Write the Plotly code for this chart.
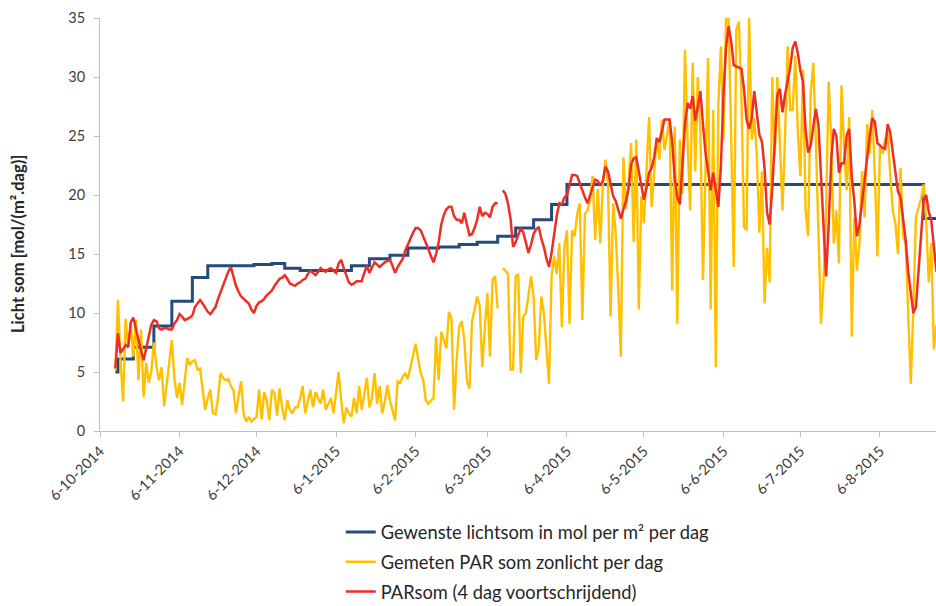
import pandas as pd
import plotly.graph_objects as go

# ---------------- data ----------------
series_start = "2014-10-12"   # first day of the daily series

# Gemeten PAR som zonlicht per dag (daily values)
par_measured = [
    5.2, 11.1, 6.0, 2.5, 9.5, 7.1, 9.1, 6.3, 9.4, 4.3,
    8.6, 2.9, 5.8, 4.1, 5.0, 7.5, 5.5, 4.3, 5.4, 2.1,
    4.0, 6.0, 7.7, 4.5, 2.8, 4.1, 2.2, 4.2, 6.2, 5.6,
    5.9, 6.0, 5.2, 5.3, 3.4, 1.8, 2.8, 3.5, 1.5, 1.4,
    2.8, 4.9, 4.5, 4.3, 4.4, 3.8, 3.5, 1.5, 3.0, 4.2,
    1.4, 0.8, 1.2, 0.8, 1.0, 1.2, 3.5, 1.0, 3.3, 2.6,
    0.9, 3.5, 3.2, 1.3, 3.6, 2.0, 0.9, 2.6, 1.8, 1.5,
    2.0, 2.0, 2.8, 3.8, 1.5, 2.6, 3.5, 2.0, 3.3, 2.8,
    2.3, 3.5, 1.8, 2.3, 2.8, 1.5, 3.5, 5.0, 2.6, 0.65,
    2.0, 1.5, 1.2, 2.8, 1.5, 3.8, 1.8, 3.0, 4.5, 2.0,
    2.8, 4.9, 2.3, 3.8, 1.5, 2.5, 3.9, 2.6, 1.8, 0.9,
    4.2, 4.1, 4.6, 4.9, 4.4, 5.5, 6.6, 7.4, 6.1, 4.9,
    4.3, 2.6, 2.3, 2.6, 2.8, 8.0, 4.3, 8.4, 7.7, 7.0,
    10.1, 9.5, 1.8, 6.0, 8.8, 9.3, 7.7, 4.3, 3.6, 9.3,
    10.3, 11.4, 10.6, 5.4, 8.8, 11.7, 6.3, 12.8, 13.1, 10.4,
    None, 13.8, 13.6, 13.3, 5.2, 5.2, 13.1, 13.3, 4.9, 9.7,
    10.0, 11.5, 13.1, 11.4, 6.0, 7.0, 11.4, 10.0, 7.0, 4.0,
    13.1, 14.8, 13.3, 15.9, 8.8, 15.6, 17.0, 9.1, 17.0, 16.5,
    18.4, 19.3, 9.4, 18.4, 18.7, 19.6, 21.6, 16.2, 20.5, 15.9,
    21.0, 23.0, 21.0, 9.7, 19.3, 16.8, 12.0, 6.3, 23.2, 18.8,
    21.0, 24.4, 16.0, 24.7, 10.3, 19.9, 17.6, 22.0, 26.6, 19.0,
    22.4, 24.9, 23.0, 26.4, 23.8, 25.0, 26.4, 11.9, 25.8, 9.1,
    24.7, 20.1, 32.3, 24.7, 18.7, 31.2, 22.0, 30.0, 25.3, 12.8,
    22.0, 31.6, 10.3, 27.2, 5.4, 27.7, 32.6, 24.7, 35.0, 35.0,
    25.0, 13.9, 34.0, 34.7, 28.3, 17.3, 17.0, 35.0, 24.7, 26.5,
    23.4, 16.8, 22.0, 10.8, 15.5, 12.6, 30.0, 23.4, 30.0, 25.0,
    18.7, 25.0, 32.6, 27.2, 27.2, 31.8, 25.3, 21.6, 30.6, 18.7,
    16.5, 28.6, 31.2, 24.7, 15.9, 9.1, 12.6, 18.7, 29.6, 24.7,
    15.9, 18.7, 14.2, 29.3, 24.1, 20.4, 26.6, 8.0, 18.1, 13.6,
    15.9, 22.0, 18.1, 26.0, 23.5, 27.2, 21.7, 14.8, 24.1, 23.5,
    24.7, 25.3, 21.7, 18.7, 17.6, 15.0, 22.3, 16.5, 15.9, 9.1,
    4.0, 10.3, 18.1, 18.9, 19.7, 20.9, 17.9, 12.6, 15.9, 6.9, 9.0,
]

# PARsom (4 dag voortschrijdend) (daily values, same dates)
par_running = [
    5.3, 8.3, 6.6, 7.0, 7.3, 7.1, 9.2, 9.6, 8.6, 7.5,
    6.8, 6.0, 7.0, 8.0, 9.0, 9.4, 9.3, 8.7, 8.6, 8.7,
    8.7, 8.6, 8.6, 9.1, 9.4, 9.9, 9.7, 9.4, 9.5, 9.6,
    9.8, 10.5, 10.8, 11.1, 10.8, 10.4, 10.1, 9.9, 10.2, 10.5,
    11.2, 11.8, 12.4, 12.9, 13.5, 13.9, 13.0, 12.3, 11.8, 11.4,
    11.2, 11.0, 10.8, 10.3, 10.0, 10.6, 10.9, 11.0, 11.2, 11.5,
    11.7, 11.9, 12.3, 12.6, 12.9, 13.0, 13.2, 12.9, 12.5, 12.4,
    12.3, 12.5, 12.6, 12.8, 12.9, 13.3, 13.6, 13.4, 13.2, 13.5,
    13.8, 13.6, 13.5, 13.7, 13.8, 13.6, 13.4, 14.2, 14.5, 13.8,
    13.2, 12.6, 12.4, 12.5, 12.7, 12.7, 12.7, 13.4, 14.0, 13.4,
    13.8, 14.3, 14.1, 13.9, 14.1, 14.3, 14.4, 14.5, 14.0, 13.4,
    13.9, 14.3, 14.6, 15.3, 15.8, 16.4, 16.8, 17.2, 17.2, 17.0,
    16.5, 16.0, 15.4, 14.8, 14.3, 15.0, 16.0, 17.5, 18.3, 18.8,
    19.0, 19.0, 18.2, 17.9, 17.9, 17.6, 18.5, 17.5, 16.6, 16.7,
    17.2, 17.9, 19.0, 18.2, 18.5, 18.4, 18.1, 19.0, 19.3, 19.3,
    None, 20.4, 20.1, 19.3, 18.0, 15.6, 16.0, 16.6, 17.2, 16.8,
    16.0, 15.1, 15.8, 16.7, 17.1, 17.3, 16.3, 15.6, 14.6, 13.9,
    15.1, 16.8, 18.2, 19.3, 19.2, 19.8, 20.0, 20.8, 21.7, 21.7,
    21.6, 21.0, 20.3, 19.8, 19.3, 20.0, 20.7, 21.3, 21.2, 20.8,
    21.2, 22.4, 22.0, 21.0, 19.9, 19.5, 18.8, 18.0, 18.8, 19.5,
    20.5, 22.6, 23.1, 23.2, 22.0, 20.8, 19.6, 20.6, 21.9, 22.3,
    23.2, 24.8, 24.5, 25.4, 26.4, 26.4, 26.4, 24.5, 21.5, 19.8,
    19.2, 22.5, 26.0, 27.8, 27.3, 28.4, 26.3, 27.5, 28.8, 26.0,
    23.6, 22.0, 20.4, 21.9, 20.4, 19.0, 22.5, 28.5, 32.5, 34.3,
    33.0, 31.0, 30.9, 30.8, 30.7, 29.0, 26.4, 25.6, 26.5, 28.8,
    27.0, 25.1, 24.5, 22.3, 18.5, 17.5, 20.5, 24.0, 28.5, 29.0,
    27.0, 28.5, 29.6, 30.8, 32.5, 33.0, 32.0, 30.5, 29.6, 25.5,
    23.6, 24.2, 25.8, 27.3, 26.0, 21.5, 16.5, 13.1, 17.5, 23.0,
    25.6, 25.0, 21.9, 22.7, 22.7, 25.0, 25.6, 21.6, 19.5, 16.5,
    17.5, 19.4, 21.5, 23.6, 25.0, 26.5, 26.2, 24.4, 24.2, 24.0,
    23.9, 26.0, 25.3, 23.5, 22.0, 20.3, 19.8, 18.0, 16.2, 13.5,
    11.5, 10.0, 10.5, 13.5, 17.0, 19.5, 20.0, 18.6, 17.8, 15.5, 13.5,
]

# Gewenste lichtsom (step values, each holds until the next date)
target_dates = [
    "2014-10-12", "2014-10-13", "2014-10-19", "2014-10-27", "2014-11-03",
    "2014-11-11", "2014-11-17", "2014-12-05", "2014-12-12", "2014-12-17",
    "2014-12-23", "2015-01-12", "2015-01-19", "2015-01-27", "2015-02-03",
    "2015-02-15", "2015-02-23", "2015-03-02", "2015-03-10", "2015-03-17",
    "2015-03-24", "2015-03-31", "2015-04-06", "2015-08-23", "2015-08-31",
]
target_values = [
    5.0, 6.1, 7.1, 8.9, 11.0,
    13.0, 14.0, 14.1, 14.2, 13.8,
    13.6, 14.0, 14.6, 14.9, 15.5,
    15.6, 15.8, 16.0, 16.5, 17.2,
    17.9, 19.2, 20.9, 18.0, 18.0,
]

tick_dates = [
    "2014-10-06", "2014-11-06", "2014-12-06", "2015-01-06", "2015-02-06",
    "2015-03-06", "2015-04-06", "2015-05-06", "2015-06-06", "2015-07-06",
    "2015-08-06",
]
tick_labels = [
    "6-10-2014", "6-11-2014", "6-12-2014", "6-1-2015", "6-2-2015",
    "6-3-2015", "6-4-2015", "6-5-2015", "6-6-2015", "6-7-2015",
    "6-8-2015",
]

series_names = [
    "Gewenste lichtsom in mol per m² per dag",
    "Gemeten PAR som zonlicht per dag",
    "PARsom (4 dag voortschrijdend)",
]
y_title = "Licht som [mol/(m².dag)]"

# ---------------- figure ----------------
days = pd.date_range(series_start, periods=len(par_measured), freq="D")

fig = go.Figure()
fig.add_trace(go.Scatter(
    x=target_dates, y=target_values, mode="lines", name=series_names[0],
    line=dict(color="#264A7C", width=3, shape="hv"), legendgroup="a"))
fig.add_trace(go.Scatter(
    x=days, y=par_measured, mode="lines", name=series_names[1],
    line=dict(color="#FFC000", width=2.4), legendgroup="b", connectgaps=False))
fig.add_trace(go.Scatter(
    x=days, y=par_running, mode="lines", name=series_names[2],
    line=dict(color="#EE2D24", width=2.5), legendgroup="c", connectgaps=False))

axis_font = dict(family="Lato", size=14.5, color="#404040")

fig.update_layout(
    width=936, height=606,
    margin=dict(l=100, r=0, t=18, b=175, autoexpand=False),
    paper_bgcolor="white", plot_bgcolor="white",
    font=dict(family="Lato", color="#262626"),
    showlegend=True,
    legend=dict(
        x=0.288, y=-0.2, xanchor="left", yanchor="top",
        font=dict(family="Lato", size=18.3, color="#262626"),
        tracegroupgap=3, bgcolor="rgba(0,0,0,0)",
    ),
    xaxis=dict(
        type="date", automargin=False,
        range=["2014-10-06", "2015-08-27 20:00"],
        tickvals=tick_dates, ticktext=tick_labels,
        tickangle=-45, tickfont=axis_font,
        showgrid=False, zeroline=False,
        showline=True, linecolor="#BFBFBF", linewidth=1,
        ticks="outside", ticklen=5, tickcolor="#BFBFBF",
    ),
    yaxis=dict(
        automargin=False,
        range=[0, 35], tickvals=[0, 5, 10, 15, 20, 25, 30, 35],
        tickfont=axis_font, ticklabelstandoff=6,
        showgrid=False, zeroline=False,
        showline=True, linecolor="#BFBFBF", linewidth=1,
        ticks="outside", ticklen=5, tickcolor="#BFBFBF",
    ),
    annotations=[dict(
        text="<b>" + y_title + "</b>", textangle=-90,
        xref="paper", yref="paper", x=-0.098, y=0.453,
        xanchor="center", yanchor="middle", showarrow=False,
        font=dict(family="Lato", size=16.5, color="#262626"),
    )],
)

fig.write_html(
    "out.html",
    config={"displayModeBar": False},
    post_script="document.body.style.margin='0';document.body.style.overflow='hidden';",
)
